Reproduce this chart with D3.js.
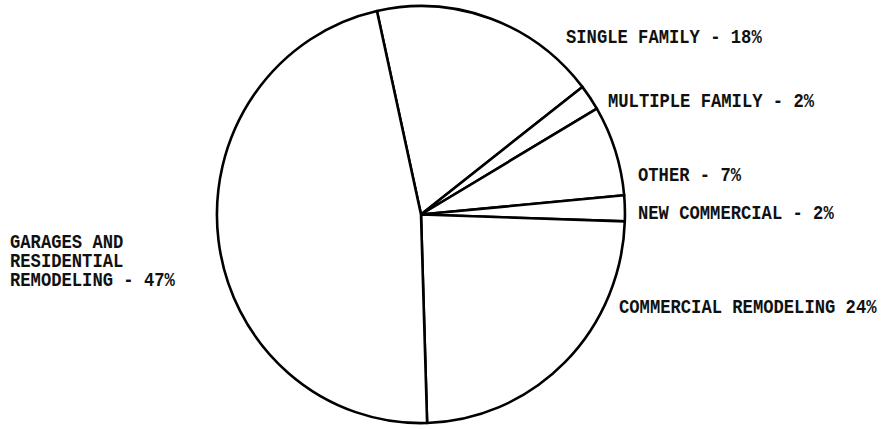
<!DOCTYPE html>
<html>
<head>
<meta charset="utf-8">
<script src="https://cdn.jsdelivr.net/npm/d3@7/dist/d3.min.js"></script>
<style>
  html, body { margin: 0; padding: 0; background: #fff; }
  svg { display: block; }
  .lbl { font-family: "Liberation Mono", "DejaVu Sans Mono", monospace; font-weight: bold; font-size: 17px; fill: #111; }
</style>
</head>
<body>
<script>
// Building permit shares by category (percent)
const categories = ["SINGLE FAMILY", "MULTIPLE FAMILY", "OTHER", "NEW COMMERCIAL", "COMMERCIAL REMODELING", "GARAGES AND RESIDENTIAL REMODELING"];
const shares = [18, 2, 7, 2, 24, 47];
const labelLines = [
  ["SINGLE FAMILY - 18%"],
  ["MULTIPLE FAMILY - 2%"],
  ["OTHER - 7%"],
  ["NEW COMMERCIAL - 2%"],
  ["COMMERCIAL REMODELING 24%"],
  ["GARAGES AND", "RESIDENTIAL", "REMODELING - 47%"]
];

const W = 881, H = 429;
const cx = 421, cy = 214.5, rx = 204, ry = 208.5;

const svg = d3.select("body").append("svg").attr("width", W).attr("height", H);

const start = -12.5 * Math.PI / 180;
const pie = d3.pie().sort(null).value(d => d).startAngle(start).endAngle(start + 2 * Math.PI);
const arcs = pie(shares);
const arc = d3.arc().innerRadius(0).outerRadius(1);

const g = svg.append("g").attr("transform", `translate(${cx},${cy}) scale(${rx},${ry})`);
g.selectAll("path")
  .data(arcs)
  .join("path")
  .attr("d", arc)
  .attr("fill", "#fff")
  .attr("stroke", "#000")
  .attr("stroke-width", 2.6)
  .attr("stroke-linejoin", "round")
  .attr("vector-effect", "non-scaling-stroke");

// Label anchors (left edge, first baseline)
const labelPos = [
  [566, 43], [608, 107], [638, 181], [638, 219], [619, 313], [10, 248]
];
const lineGap = 19.2;

labelLines.forEach((lines, i) => {
  const [x, y] = labelPos[i];
  const t = svg.append("g").attr("transform", `translate(${x},${y}) scale(1,1.15)`);
  lines.forEach((s, j) => {
    t.append("text")
      .attr("class", "lbl")
      .attr("x", 0)
      .attr("y", j * lineGap / 1.15)
      .attr("textLength", s.length * 10.3)
      .attr("lengthAdjust", "spacingAndGlyphs")
      .text(s);
  });
});
</script>
</body>
</html>
